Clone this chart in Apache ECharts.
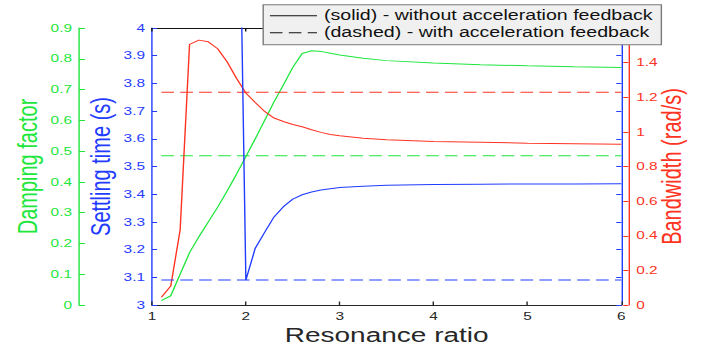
<!DOCTYPE html>
<html>
<head>
<meta charset="utf-8">
<script src="https://cdn.jsdelivr.net/npm/echarts@6.0.0/dist/echarts.min.js"></script>
<style>
  html, body { margin: 0; padding: 0; background: #fff; overflow: hidden; }
  /* source figure is stretched horizontally, so draw narrow and scale x */
  #chart { width: 507.14px; height: 348px; transform: scaleX(1.4); transform-origin: 0 0; }
</style>
</head>
<body>
<div id="chart"></div>
<script>
// resonance ratio samples
const ratio = [1.1, 1.2, 1.3, 1.4, 1.5, 1.6, 1.7, 1.8, 1.9, 2.0, 2.1, 2.2, 2.3, 2.4, 2.5, 2.6, 2.7, 2.8, 2.9, 3.0, 3.25, 3.5, 4.0, 4.5, 5.0, 5.5, 6.0]

// solid - without acceleration feedback
const damping = [0.014, 0.030, 0.100, 0.170, 0.222, 0.270, 0.318, 0.370, 0.425, 0.482, 0.540, 0.600, 0.660, 0.715, 0.772, 0.817, 0.826, 0.824, 0.818, 0.812, 0.802, 0.794, 0.786, 0.781, 0.777, 0.774, 0.772]
const settling = [null, null, null, null, null, null, null, null, 5.2, 3.09, 3.205, 3.262, 3.318, 3.355, 3.382, 3.398, 3.408, 3.415, 3.420, 3.424, 3.429, 3.432, 3.435, 3.436, 3.437, 3.437, 3.438]
const bandwidth = [0.045, 0.11, 0.434, 1.505, 1.53, 1.52, 1.48, 1.405, 1.31, 1.225, 1.17, 1.118, 1.08, 1.06, 1.043, 1.03, 1.012, 0.997, 0.985, 0.977, 0.963, 0.955, 0.945, 0.94, 0.935, 0.932, 0.929]

// dashed - with acceleration feedback (constant)
const dashedRange = [1.1, 6.0]
const dampingAcc = 0.485
const settlingAcc = 3.09
const bandwidthAcc = 1.229

const legendNames = ['(solid) - without acceleration feedback', '(dashed) - with acceleration feedback']

const GREEN = '#1ee63c'
const BLUE = '#1f3cff'
const RED = '#ff3322'
const DARK = '#262626'
const FONT = 'Liberation Sans, Arial, sans-serif'
const SX = 1.4

function pairs(xs, ys) {
    let out = []
    xs.forEach((x, i) => {
        if (ys[i] !== null) out.push([x, ys[i]])
    })
    return out
}
function flat(v) {
    return dashedRange.map(x => [x, v])
}

function yAxisBase(color, min, max, interval) {
    return {
        type: 'value',
        min: min,
        max: max,
        interval: interval,
        splitLine: { show: false },
        axisLine: { show: true, onZero: false, lineStyle: { color: color, width: 1 } },
        axisTick: { show: true, inside: true, length: 3.6, lineStyle: { color: color } },
        axisLabel: { color: color, fontSize: 11, fontFamily: FONT, margin: 5 },
        nameLocation: 'middle',
        nameRotate: 90,
        nameMoveOverlap: false,
        nameTextStyle: { color: color, fontSize: 20, fontFamily: FONT }
    }
}

function lineSeries(name, yIdx, data, color, dashed) {
    return {
        name: name,
        type: 'line',
        xAxisIndex: 0,
        yAxisIndex: yIdx,
        data: data,
        symbol: 'none',
        color: color,
        lineStyle: { color: color, width: 1, type: dashed ? [9, 4.5] : 'solid' },
        emphasis: { disabled: true },
        clip: true
    }
}

const chart = echarts.init(document.getElementById('chart'), null, { renderer: 'svg' })

let option = {
    animation: false,
    grid: {
        left: 152 / SX, right: (710 - 621.5) / SX, top: 28, bottom: 43,
        containLabel: false,
        outerBoundsMode: 'none'
    },
    legend: {
        left: 188,
        top: 4.7,
        orient: 'vertical',
        selectedMode: false,
        itemWidth: 33.6,
        itemHeight: 14,
        itemGap: 3,
        padding: [4, 6, 5, 4.3],
        backgroundColor: '#f0f0f0',
        borderColor: '#7a7a7a',
        borderWidth: 1,
        // hide the marker drawn on the line sample
        itemStyle: { opacity: 0 },
        lineStyle: { width: 1 },
        textStyle: { color: '#111', fontSize: 14, fontFamily: FONT },
        data: legendNames
    },
    xAxis: [{
        type: 'value',
        position: 'bottom',
        min: 1,
        max: 6,
        interval: 1,
        splitLine: { show: false },
        axisLine: { onZero: false, lineStyle: { color: DARK } },
        axisTick: { inside: true, length: 3.5, lineStyle: { color: DARK } },
        axisLabel: { color: DARK, fontSize: 11, lineHeight: 11, fontFamily: FONT, margin: 6 },
        name: 'Resonance ratio',
        nameLocation: 'middle',
        nameGap: 20,
        nameMoveOverlap: false,
        nameTextStyle: { color: DARK, fontSize: 20, lineHeight: 20, fontFamily: FONT }
    }, {
        type: 'value',
        position: 'top',
        min: 1,
        max: 6,
        interval: 1,
        splitLine: { show: false },
        axisLine: { onZero: false, lineStyle: { color: '#111' } },
        axisTick: { inside: true, length: 3.5, lineStyle: { color: '#111' } },
        axisLabel: { show: false }
    }],
    yAxis: [
        Object.assign(yAxisBase(BLUE, 3, 4, 0.1), {
            position: 'left', offset: 0,
            name: 'Settling time (s)', nameGap: 27
        }),
        Object.assign(yAxisBase(GREEN, 0, 0.9, 0.1), {
            position: 'left', offset: 73 / SX,
            name: 'Damping factor', nameGap: 27
        }),
        Object.assign(yAxisBase(RED, 0, 1.6, 0.2), {
            position: 'right', offset: 5,
            name: 'Bandwidth (rad/s)', nameGap: 21
        }),
        // mirror of the settling time axis on the right edge of the box
        Object.assign(yAxisBase(BLUE, 3, 4, 0.1), {
            position: 'right', offset: 0
        })
    ],
    series: [
        lineSeries('damping', 1, pairs(ratio, damping), GREEN, false),
        lineSeries('dampingAcc', 1, flat(dampingAcc), GREEN, true),
        lineSeries('bandwidth', 2, pairs(ratio, bandwidth), RED, false),
        lineSeries('bandwidthAcc', 2, flat(bandwidthAcc), RED, true),
        lineSeries('settling', 0, pairs(ratio, settling), BLUE, false),
        lineSeries('settlingAcc', 0, flat(settlingAcc), BLUE, true),
        lineSeries(legendNames[0], 0, [], '#111', false),
        lineSeries(legendNames[1], 0, [], '#111', true)
    ]
}
option.yAxis[2].axisLabel.showMaxLabel = false
option.yAxis[2].axisLabel.margin = 5.7
option.yAxis[1].axisTick.length = 4.3
option.yAxis[3].axisLabel = { show: false }

chart.setOption(option)
</script>
</body>
</html>
